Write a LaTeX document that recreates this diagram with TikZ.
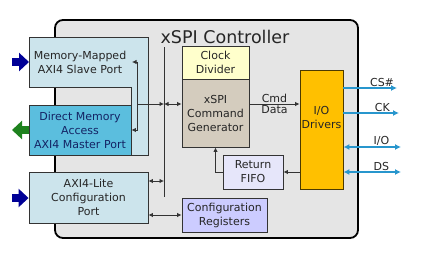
\documentclass[tikz,border=0pt]{standalone}
\usepackage{fontspec}
\setmainfont{DejaVu Sans}
\usepackage{xcolor}
\definecolor{ctrlgray}{RGB}{229, 229, 229}
\definecolor{portblue}{RGB}{204, 228, 236}
\definecolor{dmablue}{RGB}{91, 190, 222}
\definecolor{dmatext}{RGB}{20, 35, 100}
\definecolor{clockyellow}{RGB}{255, 255, 204}
\definecolor{gentan}{RGB}{212, 204, 190}
\definecolor{fifolilac}{RGB}{230, 230, 250}
\definecolor{reglilac}{RGB}{204, 204, 255}
\definecolor{ioorange}{RGB}{255, 192, 0}
\definecolor{sigblue}{RGB}{40, 150, 205}
\definecolor{hostblue}{RGB}{0, 0, 150}
\definecolor{hostgreen}{RGB}{30, 130, 30}
\usepackage{tikz}
\usetikzlibrary{arrows.meta, positioning, calc}

\begin{document}
\begin{tikzpicture}[x=1pt, y=-1pt,
    block/.style={rectangle, draw=black!80, line width=0.9pt, inner sep=0pt, align=center, text=black!85, font=\fontsize{11}{14}\selectfont},
    lbl/.style={text=black!85, font=\fontsize{11}{14}\selectfont, inner sep=1pt},
    bus/.style={draw=black!80, line width=0.8pt},
    link/.style={bus, -{Latex[length=4.5pt, width=4.5pt]}},
    dlink/.style={bus, {Latex[length=4.5pt, width=4.5pt]}-{Latex[length=4.5pt, width=4.5pt]}},
    sig/.style={draw=sigblue, line width=1.6pt, -{Latex[length=6pt, width=6pt]}},
    dsig/.style={sig, {Latex[length=6pt, width=6pt]}-{Latex[length=6pt, width=6pt]}},
    host/.style={line width=8pt, -{Triangle[length=10pt, width=18pt]}}
  ]
  \useasboundingbox (0,0) rectangle (438,252);

  % controller frame
  \draw[fill=ctrlgray, draw=black, line width=1.8pt, rounded corners=8pt] (55,20) rectangle (358,238);
  \node[font=\fontsize{17.5}{20}\selectfont, text=black!85] (title) at (225,37) {xSPI Controller};

  % host side ports
  \draw[fill=portblue, draw=black!80, line width=0.9pt] (29,37) -- (148,37) -- (148,155) -- (131,155) -- (131,87) -- (29,87) -- cycle;
  \node[lbl, align=center] (mmport) at (80,62) {Memory-Mapped\\AXI4 Slave Port};
  \node[block, fill=dmablue, text=dmatext, minimum width=102pt, minimum height=50pt] (dma) at (80,130) {Direct Memory\\Access\\AXI4 Master Port};
  \node[block, fill=portblue, minimum width=119pt, minimum height=51pt] (lite) at (88.5,197.5) {AXI4-Lite\\Configuration\\Port};

  % core blocks
  \node[block, fill=clockyellow, minimum width=67pt, minimum height=33pt] (clk) at (215.5,62.5) {Clock\\Divider};
  \node[block, fill=gentan, minimum width=67pt, minimum height=68pt] (gen) at (215.5,113) {xSPI\\Command\\Generator};
  \node[block, fill=fifolilac, minimum width=60pt, minimum height=34pt] (fifo) at (253,172) {Return\\FIFO};
  \node[block, fill=reglilac, minimum width=85pt, minimum height=34pt] (regs) at (224.5,215) {Configuration\\Registers};
  \node[block, fill=ioorange, draw=black!70!ioorange, minimum width=43pt, minimum height=119pt] (io) at (321.5,129.5) {};
  \node[lbl, align=center] (iolabel) at (321.5,117) {I/O\\Drivers};

  % host arrows
  \coordinate (mmsrc) at (12,62);
  \coordinate (mmedge) at (29,62);
  \coordinate (dmadst) at (12,130);
  \coordinate (litesrc) at (12,198);
  \draw[host, hostblue] (mmsrc) -- (mmedge);
  \draw[host, hostgreen] (dma.west) -- (dmadst);
  \draw[host, hostblue] (litesrc) -- (lite.west |- litesrc);

  % internal bus
  \coordinate (bustop) at (164,47);
  \coordinate (busbot) at (164,197);
  \coordinate (tap) at (137,104);
  \coordinate (mmtap) at (132,62);
  \coordinate (litebus) at (164,181);
  \draw[bus] (bustop) -- (busbot);
  \draw[link] (tap) -- (tap -| bustop);
  \draw[dlink] (tap -| bustop) -- (gen.west |- tap);
  \draw[link] (tap) |- (mmtap);
  \draw[link] (tap) |- (dma.east);
  \draw[dlink] (lite.east |- litebus) -- (litebus);
  \draw[dlink] (lite.east |- regs) -- (regs.west);

  % data path
  \draw[link] (gen.east |- tap) -- (io.west |- tap)
    node[lbl, midway, above] {Cmd}
    node[lbl, midway, below] {Data};
  \draw[link] (io.west |- fifo) -- (fifo.east);
  \draw[link] (fifo.west) -| (gen.south);

  % flash interface
  \coordinate (cs) at (397,88);
  \coordinate (ck) at (399,113);
  \coordinate (iopin) at (401,147);
  \coordinate (ds) at (401,172);
  \draw[sig] (io.east |- cs) -- (cs) node[lbl, pos=0.72, above] {CS\#};
  \draw[sig] (io.east |- ck) -- (ck) node[lbl, pos=0.7, above] {CK};
  \draw[dsig] (io.east |- iopin) -- (iopin) node[lbl, pos=0.66, above] {I/O};
  \draw[dsig] (io.east |- ds) -- (ds) node[lbl, pos=0.66, above] {DS};
\end{tikzpicture}
\end{document}
